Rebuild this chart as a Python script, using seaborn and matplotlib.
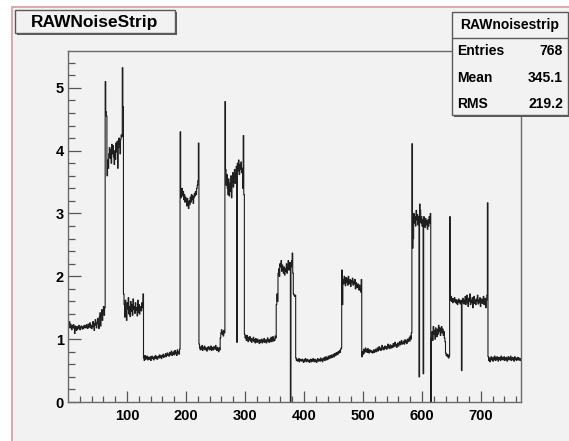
import numpy as np
import seaborn as sns
import matplotlib
matplotlib.use("Agg")
import matplotlib.pyplot as plt
from matplotlib.patches import Rectangle
from matplotlib.lines import Line2D
from matplotlib.ticker import FixedLocator, MultipleLocator

# Raw noise per strip (ADC counts), listed run by run along the 768 strips
run_000_062 = [1.25, 1.22, 1.28, 1.18, 1.24, 1.20, 1.15, 1.22, 1.19, 1.23,
               1.17, 1.09, 1.21, 1.18, 1.14, 1.20, 1.16, 1.19, 1.22, 1.17,
               1.15, 1.19, 1.21, 1.18, 1.16, 1.20, 1.17, 1.22, 1.19, 1.21,
               1.18, 1.23, 1.20, 1.17, 1.24, 1.19, 1.22, 1.26, 1.18, 1.21,
               1.17, 1.24, 1.28, 1.20, 1.14, 1.25, 1.31, 1.22, 1.18, 1.27,
               1.33, 1.24, 1.17, 1.36, 1.42, 1.21, 1.38, 1.47, 1.30, 1.44,
               1.52, 1.38, 1.50]
run_063_093 = [5.10, 4.62, 4.55, 3.60, 3.85, 3.72, 3.95, 4.05, 3.88, 4.02,
               3.80, 4.10, 3.95, 4.08, 3.90, 3.78, 4.00, 3.86, 4.12, 3.98,
               4.15, 3.72, 4.05, 4.20, 4.10, 3.95, 4.18, 4.25, 4.22, 5.32,
               4.70]
run_094_127 = [1.72, 1.55, 1.35, 1.62, 1.45, 1.30, 1.58, 1.48, 1.66, 1.40,
               1.52, 1.36, 1.60, 1.44, 1.55, 1.38, 1.64, 1.47, 1.52, 1.41,
               1.58, 1.46, 1.50, 1.37, 1.62, 1.43, 1.55, 1.40, 1.48, 1.52,
               1.45, 1.58, 1.50, 1.72]
run_128_189 = [0.70, 0.66, 0.74, 0.68, 0.72, 0.69, 0.73, 0.67, 0.71, 0.70,
               0.68, 0.72, 0.66, 0.70, 0.73, 0.69, 0.71, 0.67, 0.72, 0.70,
               0.74, 0.69, 0.72, 0.68, 0.71, 0.73, 0.70, 0.75, 0.71, 0.73,
               0.69, 0.74, 0.72, 0.76, 0.71, 0.74, 0.73, 0.77, 0.72, 0.75,
               0.78, 0.74, 0.76, 0.73, 0.79, 0.75, 0.77, 0.81, 0.74, 0.78,
               0.76, 0.80, 0.75, 0.82, 0.77, 0.79, 0.74, 0.83, 0.78, 0.80,
               0.76, 0.84]
run_190_221 = [4.30, 3.25, 3.32, 3.40, 3.28, 3.35, 3.22, 3.30, 3.18, 3.26,
               3.20, 3.12, 3.24, 3.15, 3.08, 3.20, 3.14, 3.26, 3.18, 3.30,
               3.22, 3.28, 3.16, 3.25, 3.32, 3.28, 3.35, 3.30, 3.40, 3.45,
               3.52, 4.12]
run_222_257 = [0.92, 0.86, 0.83, 0.88, 0.84, 0.90, 0.82, 0.87, 0.85, 0.89,
               0.83, 0.86, 0.84, 0.81, 0.87, 0.85, 0.88, 0.83, 0.86, 0.84,
               0.89, 0.82, 0.87, 0.85, 0.83, 0.88, 0.86, 0.84, 0.90, 0.85,
               0.82, 0.87, 0.84, 0.80, 0.86, 0.83]
run_258_265 = [1.02, 1.10, 1.15, 1.08, 1.12, 1.05, 1.14, 1.10]
run_266_298 = [4.78, 3.70, 3.45, 3.62, 3.40, 3.30, 3.55, 3.28, 3.48, 3.35,
               3.60, 3.25, 3.50, 3.65, 3.42, 3.58, 3.70, 3.48, 3.62, 3.75,
               0.95, 3.80, 3.68, 3.85, 3.62, 3.78, 3.70, 3.82, 3.65, 3.72,
               3.40, 4.24, 3.30]
run_299_352 = [1.08, 1.02, 1.05, 0.98, 1.06, 1.00, 0.96, 1.03, 0.99, 1.04,
               0.97, 1.01, 0.95, 1.00, 0.98, 1.03, 0.96, 0.99, 0.94, 1.01,
               0.97, 0.95, 1.00, 0.96, 0.98, 0.93, 0.99, 0.95, 0.97, 1.00,
               0.94, 0.98, 0.96, 1.01, 0.95, 0.97, 0.99, 0.94, 0.98, 1.02,
               0.96, 0.99, 0.95, 1.00, 0.97, 1.03, 0.96, 0.98, 1.04, 0.97,
               1.00, 0.98, 1.05, 1.02]
run_353_385 = [1.55, 1.72, 1.60, 2.05, 2.12, 2.00, 2.20, 2.15, 2.25, 2.08,
               2.18, 2.10, 2.05, 2.15, 2.02, 2.12, 2.08, 2.20, 2.05, 2.15,
               2.25, 2.10, 2.18, 2.22, 0.00, 2.15, 2.25, 2.37, 2.05, 1.72,
               1.70, 1.68, 1.70]
run_386_463 = [0.70, 0.66, 0.68, 0.65, 0.67, 0.69, 0.64, 0.68, 0.66, 0.67,
               0.65, 0.68, 0.66, 0.63, 0.67, 0.65, 0.69, 0.66, 0.64, 0.68,
               0.66, 0.65, 0.67, 0.63, 0.66, 0.68, 0.64, 0.67, 0.65, 0.69,
               0.66, 0.64, 0.68, 0.65, 0.67, 0.63, 0.66, 0.69, 0.65, 0.67,
               0.68, 0.65, 0.70, 0.66, 0.68, 0.64, 0.69, 0.67, 0.71, 0.66,
               0.69, 0.72, 0.67, 0.70, 0.68, 0.73, 0.69, 0.71, 0.74, 0.70,
               0.72, 0.75, 0.71, 0.74, 0.76, 0.72, 0.77, 0.74, 0.78, 0.75,
               0.79, 0.76, 0.80, 0.78, 0.82, 0.79, 0.84, 0.86]
run_464_497 = [2.10, 1.55, 1.95, 1.88, 2.00, 1.92, 1.85, 1.98, 1.90, 1.96,
               1.86, 2.00, 1.92, 1.88, 1.95, 1.84, 1.93, 1.90, 1.97, 1.86,
               1.92, 1.88, 1.95, 1.80, 1.90, 1.85, 1.82, 1.88, 1.84, 1.78,
               1.86, 1.80, 1.75, 1.95]
run_498_582 = [0.72, 0.80, 0.76, 0.84, 0.78, 0.82, 0.86, 0.80, 0.83, 0.79,
               0.85, 0.81, 0.78, 0.83, 0.80, 0.82, 0.79, 0.81, 0.78, 0.80,
               0.83, 0.79, 0.81, 0.84, 0.80, 0.82, 0.86, 0.81, 0.84, 0.88,
               0.83, 0.86, 0.82, 0.85, 0.90, 0.84, 0.87, 0.83, 0.86, 0.89,
               0.85, 0.88, 0.84, 0.87, 0.92, 0.86, 0.89, 0.85, 0.91, 0.88,
               0.86, 0.90, 0.87, 0.93, 0.88, 0.91, 0.95, 0.89, 0.92, 0.87,
               0.90, 0.94, 0.89, 0.92, 0.96, 0.91, 0.94, 0.98, 0.92, 0.95,
               0.93, 0.97, 0.92, 0.99, 0.95, 0.97, 0.93, 1.00, 0.96, 0.98,
               1.02, 0.97, 1.05, 1.00, 1.10]
run_583_615 = [4.11, 2.45, 2.60, 3.00, 2.85, 2.95, 2.80, 3.05, 2.90, 2.98,
               2.82, 2.95, 0.40, 3.15, 3.05, 2.85, 2.95, 2.80, 2.90, 0.45,
               2.95, 2.85, 2.78, 2.92, 2.82, 2.88, 2.75, 2.90, 2.80, 2.95,
               2.85, 3.00, 0.00]
run_616_639 = [1.02, 1.12, 0.98, 1.20, 1.08, 1.14, 1.00, 1.18, 1.10, 1.04,
               1.16, 1.08, 1.22, 1.12, 1.18, 1.06, 1.14, 1.20, 1.10, 1.16,
               1.06, 1.12, 1.02, 0.96]
run_640_646 = [0.78, 0.74, 0.76, 0.72, 0.75, 0.70, 0.73]
run_647_711 = [2.95, 1.62, 1.68, 1.60, 1.65, 1.58, 1.64, 1.61, 1.66, 1.59,
               1.63, 1.57, 1.62, 1.55, 1.60, 1.64, 1.58, 1.61, 1.56, 1.62,
               0.50, 1.58, 1.65, 1.60, 1.56, 1.62, 1.68, 1.55, 1.63, 1.70,
               1.58, 1.52, 1.65, 1.60, 1.72, 1.55, 1.62, 1.58, 1.66, 1.50,
               1.60, 1.68, 1.57, 1.62, 1.55, 1.64, 1.60, 1.70, 1.56, 1.62,
               1.58, 1.66, 1.52, 1.60, 1.64, 1.57, 1.62, 1.68, 1.55, 1.60,
               1.65, 1.50, 1.62, 1.70, 3.17]
run_712_767 = [0.72, 0.66, 0.70, 0.64, 0.69, 0.72, 0.67, 0.70, 0.65, 0.71,
               0.68, 0.73, 0.66, 0.70, 0.67, 0.72, 0.69, 0.65, 0.71, 0.68,
               0.70, 0.66, 0.73, 0.68, 0.71, 0.67, 0.69, 0.72, 0.66, 0.70,
               0.68, 0.71, 0.65, 0.69, 0.72, 0.67, 0.70, 0.68, 0.73, 0.66,
               0.69, 0.71, 0.67, 0.70, 0.65, 0.72, 0.68, 0.70, 0.66, 0.69,
               0.71, 0.67, 0.70, 0.68, 0.66, 0.69]

hist_title = "RAWNoiseStrip"
stats_name = "RAWnoisestrip"
stats_rows = [("Entries", "768"), ("Mean", "345.1"), ("RMS", "219.2")]
x_major = [100, 200, 300, 400, 500, 600, 700]

noise = np.concatenate([run_000_062, run_063_093, run_094_127, run_128_189,
                        run_190_221, run_222_257, run_258_265, run_266_298,
                        run_299_352, run_353_385, run_386_463, run_464_497,
                        run_498_582, run_583_615, run_616_639, run_640_646,
                        run_647_711, run_712_767])
n_strips = noise.size
strip = np.arange(n_strips) + 0.5

sns.set_theme(style="white")
plt.rcParams["font.family"] = ["Liberation Sans", "DejaVu Sans"]
plt.rcParams["font.weight"] = "bold"
plt.rcParams["text.color"] = "black"

W, H = 569, 441
fig = plt.figure(figsize=(W / 100, H / 100), dpi=100, facecolor="white")


def fx(x):
    return x / W


def fy(y):
    return 1 - y / H


# canvas background with its thin border
fig.patches.append(Rectangle((fx(12), -0.05), 1.2, fy(7) + 0.05,
                             transform=fig.transFigure, facecolor="#f2f2f2",
                             edgecolor="#dba8a8", lw=1.4, zorder=-10))

ax = fig.add_axes([fx(68), fy(402), fx(521) - fx(68), fy(51) - fy(402)])
ax.set_zorder(1)
ax.set_facecolor("#f2f2f2")

sns.histplot(x=strip, weights=noise, bins=n_strips, binrange=(0, n_strips),
             element="step", fill=False, color="#1e1e1e", linewidth=0.8,
             ax=ax)

ax.set_xlim(0, n_strips)
ax.set_ylim(0, 1.05 * noise.max())
ax.set_xlabel("")
ax.set_ylabel("")

ax.xaxis.set_major_locator(FixedLocator(x_major))
ax.xaxis.set_minor_locator(FixedLocator([v for v in range(20, n_strips, 20)
                                         if v % 100]))
ax.yaxis.set_major_locator(MultipleLocator(1))
ax.yaxis.set_minor_locator(MultipleLocator(0.2))

ax.tick_params(which="both", direction="in", top=False, right=False,
               bottom=True, left=True, color="#555555", width=0.9,
               labelsize=10.5, labelcolor="black")
ax.tick_params(axis="x", which="major", length=8, pad=5)
ax.tick_params(axis="x", which="minor", length=4.3)
ax.tick_params(axis="y", which="major", length=9.4, pad=3)
ax.tick_params(axis="y", which="minor", length=5)
for lab in ax.get_xticklabels() + ax.get_yticklabels():
    lab.set_fontweight("bold")

for sp in ax.spines.values():
    sp.set_visible(True)
    sp.set_color("#6a6a6a")
    sp.set_linewidth(1.0)


def pave(x0, y0, x1, y1):
    """Box with a drop shadow, in pixel coordinates."""
    fig.add_artist(Rectangle((fx(x0 + 2), fy(y1 + 2)), fx(x1 - x0), (y1 - y0) / H,
                             transform=fig.transFigure, facecolor="#5a5a5a",
                             edgecolor="none", zorder=5))
    fig.add_artist(Rectangle((fx(x0), fy(y1)), fx(x1 - x0), (y1 - y0) / H,
                             transform=fig.transFigure, facecolor="#f2f2f2",
                             edgecolor="#5a5a5a", lw=1.0, zorder=6))


# histogram title
pave(15, 10, 175, 33)
fig.text(fx(95), fy(22), hist_title, ha="center", va="center",
         fontsize=12.5, fontweight="bold", zorder=7)

# statistics box
pave(452, 12, 568, 115)
fig.add_artist(Line2D([fx(452), fx(568)], [fy(38), fy(38)],
                      transform=fig.transFigure, color="#5a5a5a", lw=1.0,
                      zorder=7))
fig.text(fx(510), fy(25), stats_name, ha="center", va="center",
         fontsize=10, fontweight="bold", zorder=7)
for i, (name, val) in enumerate(stats_rows):
    yy = fy(51 + 26.5 * i)
    fig.text(fx(457), yy, name, ha="left", va="center", fontsize=10,
             fontweight="bold", zorder=7)
    fig.text(fx(563), yy, val, ha="right", va="center", fontsize=10,
             fontweight="bold", zorder=7)

fig.savefig("out.png", dpi=100, facecolor=fig.get_facecolor())
